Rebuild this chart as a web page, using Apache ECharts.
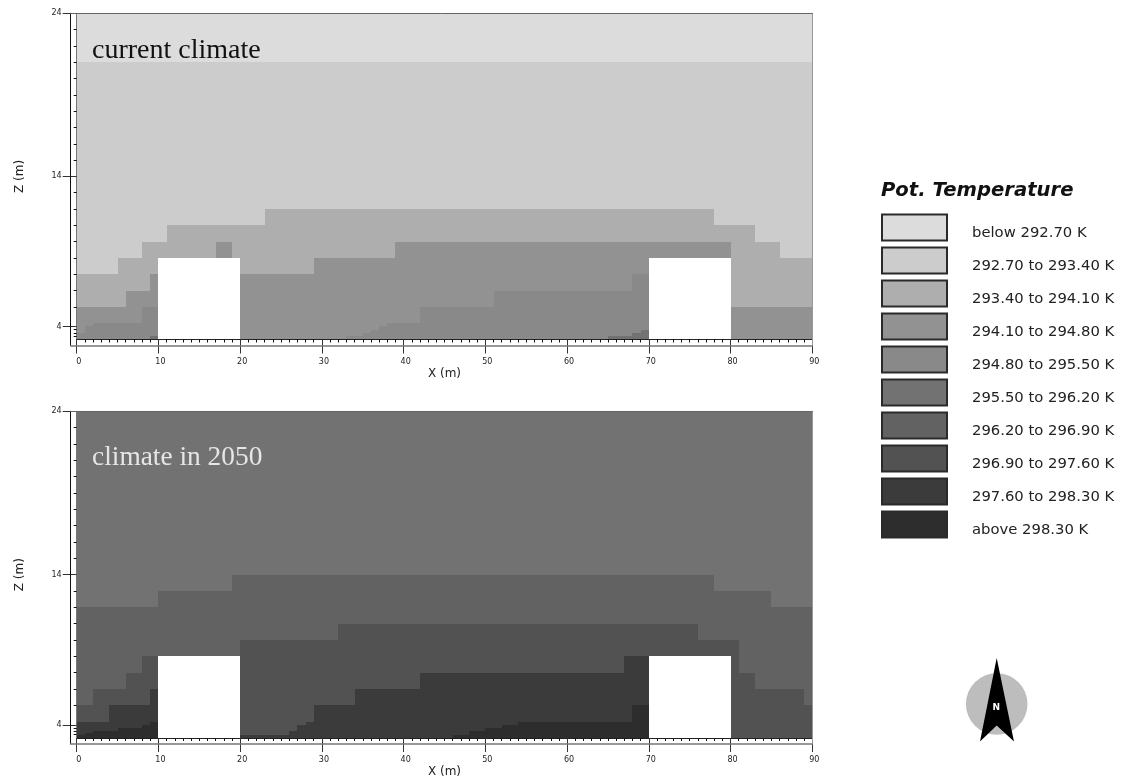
<!DOCTYPE html>
<html><head><meta charset="utf-8">
<style>html,body{margin:0;padding:0;background:#fff}#c{width:1123px;height:783px}</style>
<script src="https://cdn.jsdelivr.net/npm/echarts@6/dist/echarts.min.js"></script>
</head><body><div id="c"></div>
<script>
// Legend classes and greys
const classNames = ['below 292.70 K','292.70 to 293.40 K','293.40 to 294.10 K','294.10 to 294.80 K','294.80 to 295.50 K','295.50 to 296.20 K','296.20 to 296.90 K','296.90 to 297.60 K','297.60 to 298.30 K','above 298.30 K'];
const classGreys = ['#dcdcdc','#cccccc','#aeaeae','#929292','#898989','#727272','#626262','#525252','#3b3b3b','#2d2d2d'];

// Vertical axis is in grid-layer units (the source grid is telescoped near the ground).
const zMajorLayers = [0.8, 10, 20];
const zMajorLabels = ['4', '14', '24'];
const zMinorLayers = [0.2,0.4,0.6,2,3,4,5,6,7,8,9,11,12,13,14,15,16,17,18,19];
const buildings = [[10,20,5],[70,80,5]];

// Each class: runs of [xStart, xEnd, layerTop]; later classes paint over earlier ones.
const currentClass0 = [[0,90,20]];
const currentClass1 = [[0,90,17]];
const currentClass2 = [[0,5,4],[5,8,5],[8,11,6],[11,23,7],[23,78,8],[78,83,7],[83,86,6],[86,90,5]];
const currentClass3 = [[0,6,2],[6,9,3],[9,10,4],[17,19,6],[20,29,4],[29,39,5],[39,80,6],[80,90,2]];
const currentClass4 = [[0,1,0.4],[1,2,0.8],[2,8,1],[8,10,2],[33,35,0.2],[35,36,0.4],[36,37,0.6],[37,38,0.8],[38,42,1],[42,51,2],[51,68,3],[68,70,4]];
const currentClass5 = [[9,10,0.2],[65,68,0.2],[68,69,0.4],[69,70,0.6]];

const futureClass5 = [[0,90,20]];
const futureClass6 = [[0,10,8],[10,19,9],[19,78,10],[78,85,9],[85,90,8]];
const futureClass7 = [[0,2,2],[2,6,3],[6,8,4],[8,10,5],[20,32,6],[32,76,7],[76,81,6],[81,83,4],[83,89,3],[89,90,2]];
const futureClass8 = [[0,4,1],[4,9,2],[9,10,3],[20,26,0.2],[26,27,0.4],[27,28,0.8],[28,29,1],[29,34,2],[34,42,3],[42,67,4],[67,70,5]];
const futureClass9 = [[0,1,0.2],[1,2,0.3],[2,5,0.4],[5,8,0.6],[8,9,0.8],[9,10,1],[46,48,0.2],[48,50,0.4],[50,52,0.6],[52,54,0.8],[54,68,1],[68,70,2]];

const panelCurrent = {0:currentClass0,1:currentClass1,2:currentClass2,3:currentClass3,4:currentClass4,5:currentClass5};
const panelFuture = {5:futureClass5,6:futureClass6,7:futureClass7,8:futureClass8,9:futureClass9};

const L = 76.7, R = 1123 - 812.3;
const panels = [{top:13.3,bottom:339.5},{top:411.3,bottom:738}];

const grid=[],xAxis=[],yAxis=[],series=[];
const txt='#222', font='"DejaVu Sans"';

function rect(params, api){
  const a = api.coord([api.value(0), api.value(2)]);
  const b = api.coord([api.value(1), 0]);
  const x0=Math.round(a[0]), x1=Math.round(b[0]), y0=Math.round(a[1]), y1=Math.round(b[1]);
  return {type:'rect', shape:{x:x0,y:y0,width:x1-x0,height:y1-y0}, style:{fill:api.visual('color')}};
}

panels.forEach((p,i)=>{
  grid.push({left:L,right:R,top:p.top,height:p.bottom-p.top});
  const xi=xAxis.length, yi=yAxis.length;
  xAxis.push({gridIndex:i,type:'value',position:'bottom',min:0,max:90,interval:10,z:5,
    name:'X (m)',nameLocation:'middle',nameGap:28,nameTextStyle:{fontFamily:font,fontSize:12,color:txt},
    axisLine:{show:true,onZero:false,lineStyle:{color:'#222',width:1}},
    axisTick:{show:true,length:14,lineStyle:{color:'#333',width:1}},
    minorTick:{show:true,splitNumber:10,length:3,lineStyle:{color:'#111',width:1}},
    axisLabel:{margin:18,fontFamily:font,fontSize:8,color:txt,padding:[0,0,0,4],showMinLabel:true,showMaxLabel:true},
    splitLine:{show:false},minorSplitLine:{show:false}});
  yAxis.push({gridIndex:i,type:'value',position:'left',min:0,max:20,z:5,
    name:'Z (m)',nameLocation:'middle',nameGap:51,nameRotate:90,nameTextStyle:{fontFamily:font,fontSize:12,color:txt},
    axisLine:{show:true,onZero:false,lineStyle:{color:'#777',width:1}},
    axisTick:{show:true,length:14,customValues:zMajorLayers,lineStyle:{color:'#333',width:1}},
    axisLabel:{show:true,margin:15,fontFamily:font,fontSize:8,color:txt,customValues:zMajorLayers,
      formatter:v=>zMajorLabels[zMajorLayers.indexOf(v)]||''},
    splitLine:{show:false}});
  yAxis.push({gridIndex:i,type:'value',position:'left',min:0,max:20,z:5,
    axisLine:{show:false,onZero:false},
    axisTick:{show:true,length:3,customValues:zMinorLayers,lineStyle:{color:'#111',width:1}},
    axisLabel:{show:false},splitLine:{show:false}});
  const src = i===0?panelCurrent:panelFuture;
  Object.keys(src).forEach(k=>{
    series.push({type:'custom',name:classNames[k],coordinateSystem:'cartesian2d',xAxisIndex:xi,yAxisIndex:yi,
      encode:{x:[0,1],y:2},itemStyle:{color:classGreys[k]},renderItem:rect,data:src[k],silent:true,animation:false});
  });
  series.push({type:'custom',name:'buildings',coordinateSystem:'cartesian2d',xAxisIndex:xi,yAxisIndex:yi,
    encode:{x:[0,1],y:2},itemStyle:{color:'#ffffff'},renderItem:rect,data:buildings,silent:true,animation:false});
});

// Outer frame of each panel: offset axis lines, top and right edges.
panels.forEach((p,i)=>{
  const g=grid.length;
  grid.push({left:70.7,right:R,top:p.top,height:p.bottom+5.8-p.top});
  const base={gridIndex:g,type:'value',min:0,max:1,z:6,axisTick:{show:false},axisLabel:{show:false},splitLine:{show:false}};
  xAxis.push({...base,position:'bottom',axisLine:{show:true,onZero:false,lineStyle:{color:'#777',width:1.5}}});
  xAxis.push({...base,position:'top',axisLine:{show:true,onZero:false,lineStyle:{color:'#666',width:1}}});
  yAxis.push({...base,position:'left',axisLine:{show:true,onZero:false,lineStyle:{color:'#111',width:1}}});
  yAxis.push({...base,position:'right',axisLine:{show:true,onZero:false,lineStyle:{color:'#999',width:1}}});
});

const legendBase={orient:'vertical',left:881,padding:0,itemWidth:65,itemHeight:26,itemGap:5,selectedMode:false,icon:'rect',data:classNames};
const option={
  animation:false,backgroundColor:'#fff',
  title:{text:'Pot. Temperature',left:881,top:181,padding:0,textStyle:{fontFamily:font,fontSize:19.6,fontWeight:'bold',fontStyle:'italic',color:'#111'}},
  legend:[
    {...legendBase,top:213.5,itemStyle:{borderColor:'#2a2a2a',borderWidth:2},formatter:()=>''},
    {...legendBase,top:219,itemStyle:{opacity:0,borderColor:'rgba(0,0,0,0)',borderWidth:2},
      textStyle:{fontFamily:font,fontSize:14.8,color:txt,padding:[0,0,0,20]}}
  ],
  grid,xAxis,yAxis,series,
  graphic:[
    {type:'text',left:92,top:37,z:20,style:{text:'current climate',font:'28px "Liberation Serif"',fill:'#111'}},
    {type:'text',left:92,top:444,z:20,style:{text:'climate in 2050',font:'27.4px "Liberation Serif"',fill:'#e6e6e6'}},
    {type:'circle',shape:{cx:996.7,cy:704,r:30.8},style:{fill:'#bdbdbd'},z:20},
    {type:'polygon',shape:{points:[[996.7,658],[1014,741.5],[996.7,725.5],[980,741.5]]},style:{fill:'#000'},z:21},
    {type:'text',left:992.5,top:703,z:22,style:{text:'N',font:'bold 9px "DejaVu Sans"',fill:'#fff'}}
  ]
};
echarts.init(document.getElementById('c'),null,{renderer:'canvas'}).setOption(option);
</script></body></html>
